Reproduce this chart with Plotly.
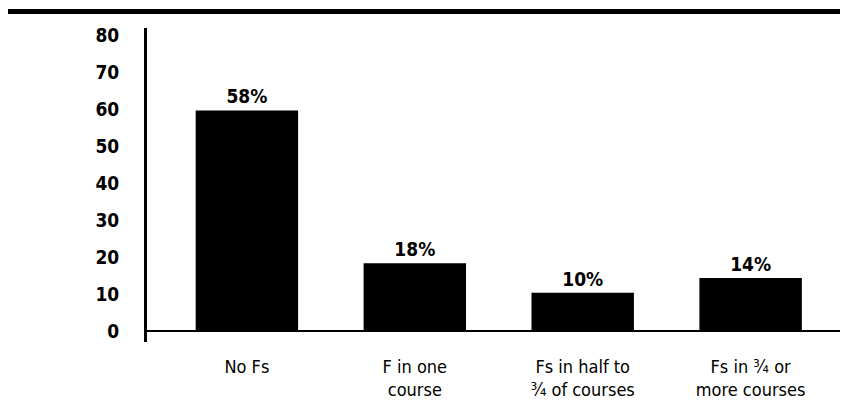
import plotly.graph_objects as go

categories = ["No Fs", "F in one<br>course", "Fs in half to<br>¾ of courses", "Fs in ¾ or<br>more courses"]
bar_heights = [59.6, 18.3, 10.3, 14.3]
value_labels = ["58%", "18%", "10%", "14%"]
y_ticks = [0, 10, 20, 30, 40, 50, 60, 70, 80]

FONT = "DejaVu Sans Condensed"

fig = go.Figure(go.Bar(
    x=list(range(len(categories))),
    y=bar_heights,
    text=value_labels,
    textposition="outside",
    cliponaxis=False,
    textfont=dict(family=FONT, size=19, color="black", weight="bold"),
    marker=dict(color="black", line=dict(width=0)),
    width=0.61,
))

fig.update_layout(
    width=840, height=409,
    margin=dict(l=139, r=0, t=20, b=75),
    paper_bgcolor="white", plot_bgcolor="white",
    showlegend=False,
    xaxis=dict(
        range=[-0.595, 3.58],
        tickvals=list(range(len(categories))),
        ticktext=categories,
        showgrid=False, zeroline=False, showline=False,
        ticks="", ticklabelstandoff=12,
        tickfont=dict(family=FONT, size=18, color="black"),
    ),
    yaxis=dict(
        range=[-3, 81.9],
        tickvals=y_ticks,
        showgrid=False,
        zeroline=True, zerolinecolor="black", zerolinewidth=2,
        showline=True, linecolor="black", linewidth=3,
        ticks="", ticklabelstandoff=21,
        tickfont=dict(family=FONT, size=19, color="black", weight="bold"),
    ),
    shapes=[dict(type="line", xref="paper", yref="paper",
                 x0=-0.2, x1=1.0, y0=1.0525, y1=1.0525,
                 line=dict(color="black", width=5))],
)

fig.write_html("out.html")
